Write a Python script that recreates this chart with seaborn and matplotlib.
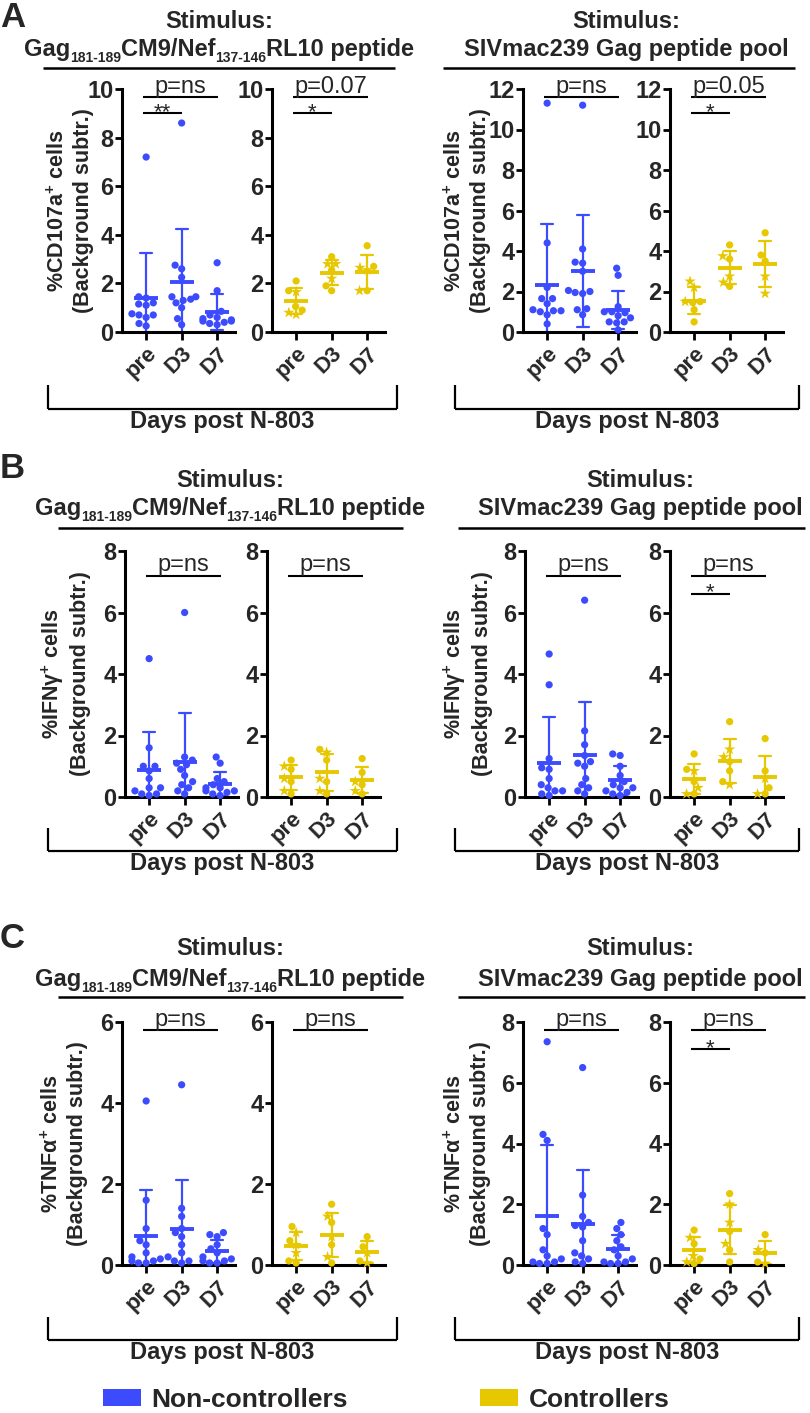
import warnings
warnings.filterwarnings("ignore")
import numpy as np
import pandas as pd
import matplotlib
matplotlib.use("Agg")
import matplotlib.pyplot as plt
import seaborn as sns
from matplotlib.lines import Line2D
from matplotlib.markers import MarkerStyle
from matplotlib.patches import Patch

# ---------------- data ----------------
DAYS = ["pre", "D3", "D7"]

# Row A: %CD107a+  | peptide stimulus
cd107a_pep_nc = {"pre": [7.2, 1.45, 1.4, 1.2, 1.15, 1.1, 0.75, 0.7, 0.7, 0.6, 0.35, 0.25],
                 "D3": [8.6, 2.75, 2.6, 2.25, 1.45, 1.45, 1.35, 1.3, 1.2, 1.0, 0.55, 0.3],
                 "D7": [2.85, 1.7, 0.85, 0.7, 0.6, 0.55, 0.5, 0.45, 0.45, 0.4, 0.35, 0.3]}
cd107a_pep_ctrl_dot = {"pre": [2.1, 1.7, 1.05, 0.9], "D3": [3.1, 2.55, 1.9, 1.7], "D7": [3.55, 2.7, 1.7]}
cd107a_pep_ctrl_star = {"pre": [1.65, 0.8, 0.72], "D3": [2.8, 2.8, 2.2], "D7": [2.65, 2.55, 1.7]}
# Row A: %CD107a+  | Gag pool stimulus
cd107a_pool_nc = {"pre": [11.3, 4.4, 2.2, 1.65, 1.65, 1.4, 1.1, 1.05, 1.05, 1.0, 0.85, 0.4],
                  "D3": [11.2, 4.1, 3.45, 3.4, 3.0, 2.05, 2.0, 1.95, 1.9, 1.15, 1.1, 0.85],
                  "D7": [3.15, 2.8, 1.25, 1.0, 1.0, 0.95, 0.8, 0.7, 0.5, 0.5, 0.45, 0.1]}
cd107a_pool_ctrl_dot = {"pre": [1.5, 1.45, 1.1, 0.5], "D3": [4.3, 3.6, 2.25], "D7": [4.9, 3.8, 3.5]}
cd107a_pool_ctrl_star = {"pre": [2.5, 2.2, 1.5], "D3": [3.75, 2.75, 2.45], "D7": [2.75, 1.9]}

# Row B: %IFNg+
ifng_pep_nc = {"pre": [4.5, 1.6, 1.0, 1.0, 0.85, 0.6, 0.3, 0.3, 0.2, 0.1, 0.1, 0.05],
               "D3": [6.0, 1.3, 1.2, 1.1, 1.05, 0.9, 0.7, 0.5, 0.4, 0.3, 0.2, 0.1],
               "D7": [1.3, 1.1, 0.6, 0.5, 0.4, 0.3, 0.3, 0.2, 0.2, 0.15, 0.1, 0.05]}
ifng_pep_ctrl_dot = {"pre": [1.2, 0.9, 0.5, 0.1], "D3": [1.55, 1.2, 0.5, 0.1], "D7": [1.25, 0.8, 0.4, 0.1]}
ifng_pep_ctrl_star = {"pre": [1.0, 0.6, 0.2], "D3": [1.45, 0.6, 0.2], "D7": [0.5, 0.2]}
ifng_pool_nc = {"pre": [4.65, 3.65, 1.25, 0.95, 0.9, 0.6, 0.4, 0.3, 0.2, 0.2, 0.1, 0.05],
                "D3": [6.4, 2.15, 1.7, 1.35, 1.15, 1.1, 1.0, 0.6, 0.4, 0.3, 0.2, 0.1],
                "D7": [1.4, 1.35, 1.0, 0.7, 0.5, 0.4, 0.3, 0.3, 0.2, 0.15, 0.1, 0.05]}
ifng_pool_ctrl_dot = {"pre": [1.4, 0.9, 0.5, 0.1], "D3": [2.45, 1.15, 0.85, 0.5], "D7": [1.9, 0.85, 0.3, 0.1]}
ifng_pool_ctrl_star = {"pre": [0.85, 0.3, 0.1], "D3": [1.55, 1.3, 0.4], "D7": [0.6, 0.1]}

# Row C: %TNFa+
tnfa_pep_nc = {"pre": [4.05, 1.6, 0.9, 0.6, 0.5, 0.3, 0.2, 0.15, 0.1, 0.1, 0.05, 0.05],
               "D3": [4.45, 1.4, 1.2, 0.9, 0.8, 0.7, 0.5, 0.3, 0.2, 0.1, 0.1, 0.05],
               "D7": [0.8, 0.75, 0.7, 0.5, 0.4, 0.3, 0.2, 0.15, 0.1, 0.1, 0.05, 0.05]}
tnfa_pep_ctrl_dot = {"pre": [0.95, 0.6, 0.1, 0.05], "D3": [1.5, 1.05, 0.5, 0.05], "D7": [0.7, 0.45, 0.1]}
tnfa_pep_ctrl_star = {"pre": [0.8, 0.5, 0.3], "D3": [1.2, 0.7, 0.2], "D7": [0.3, 0.05]}
tnfa_pool_nc = {"pre": [7.35, 4.3, 4.1, 1.2, 1.0, 0.5, 0.3, 0.2, 0.1, 0.1, 0.05, 0.05],
                "D3": [6.5, 2.3, 1.6, 1.4, 1.3, 1.25, 0.8, 0.4, 0.3, 0.2, 0.1, 0.05],
                "D7": [1.4, 1.2, 1.0, 0.8, 0.6, 0.5, 0.3, 0.2, 0.1, 0.1, 0.05, 0.05]}
tnfa_pool_ctrl_dot = {"pre": [1.15, 0.7, 0.2, 0.05], "D3": [2.35, 1.1, 0.5, 0.1], "D7": [1.0, 0.4, 0.1]}
tnfa_pool_ctrl_star = {"pre": [0.9, 0.3, 0.1], "D3": [2.0, 1.4, 0.7], "D7": [0.5, 0.05]}

YMAX = [[10, 10, 12, 12], [8, 8, 8, 8], [6, 6, 8, 8]]
PTEXT = [["p=ns", "p=0.07", "p=ns", "p=0.05"],
         ["p=ns", "p=ns", "p=ns", "p=ns"],
         ["p=ns", "p=ns", "p=ns", "p=ns"]]
STARS = [["**", "*", None, "*"],
         [None, None, None, "*"],
         [None, None, None, "*"]]
YLABELS = ["%CD107a$^{+}$ cells\n(Background subtr.)",
           "%IFN\u03b3$^{+}$ cells\n(Background subtr.)",
           "%TNF\u03b1$^{+}$ cells\n(Background subtr.)"]
TITLE_TOP = "Stimulus:"
TITLE_PEP = [("Gag", False), ("181-189", True), ("CM9/Nef", False), ("137-146", True), ("RL10 peptide", False)]
TITLE_POOL = [("SIVmac239 Gag peptide pool", False)]
XLABEL = "Days post N-803"
LEGEND_LABELS = ["Non-controllers", "Controllers"]
PANEL_LETTERS = ["A", "B", "C"]

BLUE = "#3D4BFF"
YELLOW = "#E6C700"

# ---------------- style ----------------
sns.set_style("white")
plt.rcParams["font.family"] = ["Liberation Sans", "DejaVu Sans"]
plt.rcParams["font.weight"] = "bold"
plt.rcParams["mathtext.fontset"] = "custom"
plt.rcParams["mathtext.rm"] = "Liberation Sans:bold"
plt.rcParams["mathtext.bf"] = "Liberation Sans:bold"
plt.rcParams["mathtext.it"] = "Liberation Sans:bold"

W, H = 810, 1413
fig = plt.figure(figsize=(W / 100, H / 100), dpi=100)
fig.patch.set_facecolor("white")


def fx(x):
    return x / W


def fy(y):
    return 1 - y / H


_m = MarkerStyle("o")
DOT = _m.get_path().transformed(_m.get_transform())
_m = MarkerStyle("*")
STAR = _m.get_path().transformed(_m.get_transform().scale(1.65))

XMIN, XMAX = -0.68, 2.5
CAT_PX = 35.5
ROWS = [dict(top=89, bottom=332, spines=[122, 272, 523, 670], main=0.967, star=0.90),
        dict(top=551, bottom=797, spines=[125, 267, 525, 670], main=0.90, star=0.826),
        dict(top=1022, bottom=1265, spines=[122, 272, 523, 670], main=0.967, star=0.889)]

DATA = [[(cd107a_pep_nc, None), (cd107a_pep_ctrl_dot, cd107a_pep_ctrl_star),
         (cd107a_pool_nc, None), (cd107a_pool_ctrl_dot, cd107a_pool_ctrl_star)],
        [(ifng_pep_nc, None), (ifng_pep_ctrl_dot, ifng_pep_ctrl_star),
         (ifng_pool_nc, None), (ifng_pool_ctrl_dot, ifng_pool_ctrl_star)],
        [(tnfa_pep_nc, None), (tnfa_pep_ctrl_dot, tnfa_pep_ctrl_star),
         (tnfa_pool_nc, None), (tnfa_pool_ctrl_dot, tnfa_pool_ctrl_star)]]


def make_frame(dots, stars):
    rows = []
    for d in DAYS:
        for v in dots[d]:
            rows.append((d, v, "o"))
        if stars is not None:
            for v in stars[d]:
                rows.append((d, v, "*"))
    return pd.DataFrame(rows, columns=["day", "value", "marker"])


def draw_group(ax, df, color, ymax, ptext, stext, main_f, star_f):
    n0 = len(ax.collections)
    sns.swarmplot(data=df, x="day", y="value", order=DAYS, color=color,
                  size=5.2, ax=ax, warn_thresh=1.0)
    for coll in ax.collections[n0:]:
        offs = coll.get_offsets()
        if len(offs) == 0:
            coll.set_visible(False)
            continue
        d = DAYS[int(round(float(np.asarray(offs)[0, 0])))]
        marks = df.loc[df["day"] == d, "marker"].tolist()
        if len(marks) == len(offs):
            coll.set_paths([STAR if m == "*" else DOT for m in marks])
        coll.set_clip_on(False)
    sns.pointplot(data=df, x="day", y="value", order=DAYS, errorbar="sd",
                  capsize=0.34, linestyle="none", marker="_", markersize=17,
                  markeredgewidth=2.8, color=color,
                  err_kws={"linewidth": 1.6, "color": color}, ax=ax)
    ax.set_xlim(XMIN, XMAX)
    ax.set_ylim(0, ymax)
    ax.set_yticks(list(range(0, ymax + 1, 2)))
    ax.set_xticks([0, 1, 2])
    ax.set_xticklabels(DAYS, rotation=45, ha="right", rotation_mode="anchor",
                       fontsize=16, fontweight="bold")
    for t in ax.get_yticklabels():
        t.set_fontweight("bold")
    ax.set_xlabel("")
    ax.set_ylabel("")
    sns.despine(ax=ax)
    for s in ("left", "bottom"):
        ax.spines[s].set_linewidth(2.2)
        ax.spines[s].set_color("black")
    ax.tick_params(axis="y", direction="out", length=5, width=2, color="black",
                   labelsize=17, pad=1, left=True)
    ax.tick_params(axis="x", direction="out", length=6, width=2, color="black",
                   pad=2, bottom=True)
    tr = ax.get_xaxis_transform()
    ax.plot([-0.08, 2.03], [main_f, main_f], transform=tr, color="black", lw=1.5,
            clip_on=False, solid_capstyle="butt")
    ax.annotate(ptext, xy=(0.975, main_f), xycoords=tr, xytext=(0, 3),
                textcoords="offset points", ha="center", va="baseline",
                fontsize=17, fontweight="normal")
    if stext:
        ax.plot([-0.08, 1.0], [star_f, star_f], transform=tr, color="black", lw=1.5,
                clip_on=False, solid_capstyle="butt")
        ax.annotate(stext, xy=(0.46, star_f), xycoords=tr, xytext=(0, -3.5),
                    textcoords="offset points", ha="center", va="baseline",
                    fontsize=16, fontweight="normal")


for r, row in enumerate(ROWS):
    for c in range(4):
        left = row["spines"][c]
        width = (XMAX - XMIN) * CAT_PX
        ax = fig.add_axes([fx(left), fy(row["bottom"]), width / W,
                           (row["bottom"] - row["top"]) / H])
        ax.set_facecolor("white")
        dots, stars = DATA[r][c]
        df = make_frame(dots, stars)
        color = BLUE if c in (0, 2) else YELLOW
        draw_group(ax, df, color, YMAX[r][c], PTEXT[r][c], STARS[r][c],
                   row["main"], row["star"])


# ---------------- figure-level text ----------------
def hline(x0, x1, y, lw=1.6):
    fig.add_artist(Line2D([fx(x0), fx(x1)], [fy(y), fy(y)], color="black", lw=lw,
                          transform=fig.transFigure, solid_capstyle="butt"))


def vline(x, y0, y1, lw=1.6):
    fig.add_artist(Line2D([fx(x), fx(x)], [fy(y0), fy(y1)], color="black", lw=lw,
                          transform=fig.transFigure, solid_capstyle="butt"))


renderer = fig.canvas.get_renderer()


def rich(pieces, cx, base, size=17, subsize=10, drop=6):
    texts = []
    widths = []
    for s, is_sub in pieces:
        t = fig.text(0, 0, s, fontsize=subsize if is_sub else size,
                     fontweight="bold", ha="left", va="baseline")
        widths.append(t.get_window_extent(renderer).width)
        texts.append(t)
    x = cx - sum(widths) / 2
    for t, w, (s, is_sub) in zip(texts, widths, pieces):
        t.set_position((fx(x), fy(base + (drop if is_sub else 0))))
        x += w


TITLES = [dict(lc=219, rc=626, b1=28, b2=56, uy=68, ul=(43, 395), ur=(443, 795)),
          dict(lc=230, rc=640, b1=487, b2=515, uy=528, ul=(58, 403), ur=(458, 805)),
          dict(lc=230, rc=640, b1=955, b2=986, uy=997, ul=(58, 403), ur=(458, 805))]
BRACKETS = [dict(top=385, y=409), dict(top=828, y=851), dict(top=1317, y=1340)]
YLAB_X = [(71, 468), (65, 467), (65, 468)]
LETTER_BASE = [27, 478, 948]

for r in range(3):
    t = TITLES[r]
    fig.text(fx(t["lc"]), fy(t["b1"]), TITLE_TOP, fontsize=17, fontweight="bold",
             ha="center", va="baseline")
    fig.text(fx(t["rc"]), fy(t["b1"]), TITLE_TOP, fontsize=17, fontweight="bold",
             ha="center", va="baseline")
    rich(TITLE_PEP, t["lc"], t["b2"])
    rich(TITLE_POOL, t["rc"], t["b2"])
    hline(t["ul"][0], t["ul"][1], t["uy"], lw=1.8)
    hline(t["ur"][0], t["ur"][1], t["uy"], lw=1.8)

    b = BRACKETS[r]
    for (x0, x1) in ((48, 397), (455, 799)):
        hline(x0, x1, b["y"])
        vline(x0, b["top"], b["y"])
        vline(x1, b["top"], b["y"])
        fig.text(fx((x0 + x1) / 2), fy(b["y"] + 1), XLABEL, fontsize=17,
                 fontweight="bold", ha="center", va="top")

    row = ROWS[r]
    yc = (row["top"] + row["bottom"]) / 2
    for xl in YLAB_X[r]:
        fig.text(fx(xl), fy(yc), YLABELS[r], rotation=90, ha="center", va="center",
                 fontsize=15.5, fontweight="bold", linespacing=1.25,
                 multialignment="center")

    fig.text(fx(0), fy(LETTER_BASE[r]), PANEL_LETTERS[r], fontsize=25,
             fontweight="bold", ha="left", va="baseline")

handles = [Patch(facecolor=BLUE, edgecolor="none"), Patch(facecolor=YELLOW, edgecolor="none")]
fig.legend(handles, LEGEND_LABELS, loc="center", bbox_to_anchor=(fx(386), fy(1400)),
           ncol=2, frameon=False, prop={"size": 19, "weight": "bold"},
           handlelength=1.45, handleheight=0.6, handletextpad=0.4, columnspacing=5.0)

fig.savefig("out.png", dpi=100, facecolor="white")
